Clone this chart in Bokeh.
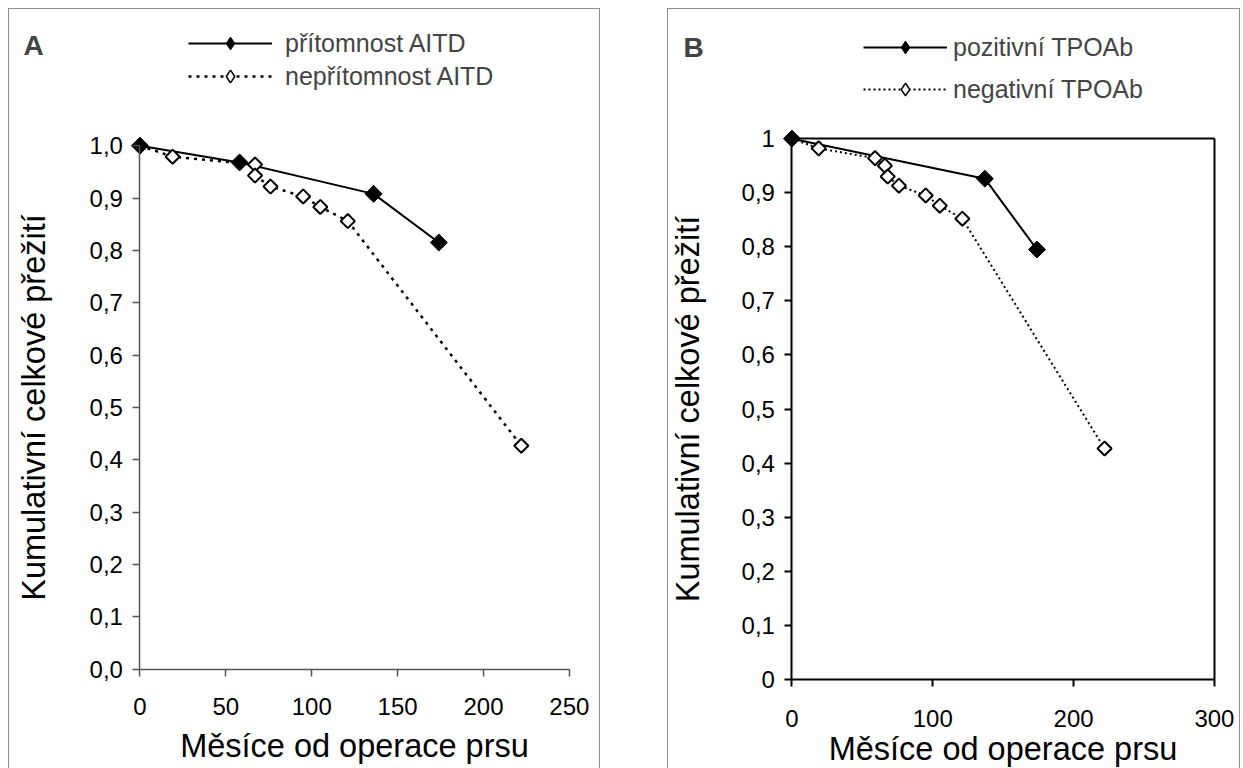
import math
from bokeh.plotting import figure
from bokeh.models import Range1d, FixedTicker, LinearAxis, Legend, LegendItem, Label
from bokeh.layouts import row
from bokeh.embed import file_html
from bokeh.resources import INLINE

FONT = "Liberation Sans"

# ---------------- data ----------------
a_pos_months = [0, 58, 136, 174]
a_pos_surv = [1.0, 0.968, 0.908, 0.815]
a_neg_months = [0, 19, 67, 67, 76, 95, 105, 121, 222]
a_neg_surv = [1.0, 0.979, 0.964, 0.943, 0.922, 0.903, 0.883, 0.856, 0.427]

b_pos_months = [0, 137, 174]
b_pos_surv = [1.0, 0.926, 0.795]
b_neg_months = [0, 19, 59, 66, 68, 76, 95, 105, 121, 222]
b_neg_surv = [1.0, 0.982, 0.964, 0.95, 0.93, 0.913, 0.895, 0.876, 0.852, 0.427]

a_xticks = [0, 50, 100, 150, 200, 250]
b_xticks = [0, 100, 200, 300]
y_ticks = [0, 0.1, 0.2, 0.3, 0.4, 0.5, 0.6, 0.7, 0.8, 0.9, 1]
a_ytick_labels = ["0,0", "0,1", "0,2", "0,3", "0,4", "0,5", "0,6", "0,7", "0,8", "0,9", "1,0"]
b_ytick_labels = ["0", "0,1", "0,2", "0,3", "0,4", "0,5", "0,6", "0,7", "0,8", "0,9", "1"]

a_legend = ["přítomnost AITD", "nepřítomnost AITD"]
b_legend = ["pozitivní TPOAb", "negativní TPOAb"]
x_title = "Měsíce od operace prsu"
y_title = "Kumulativní celkové přežití"

HEIGHT = 760   # figure height (1px top border -> 759px canvas)


def style_axis(ax, color, width, label_standoff, title, title_standoff):
    ax.axis_line_color = color
    ax.axis_line_width = width
    ax.major_tick_line_color = color
    ax.major_tick_line_width = width
    ax.major_tick_out = 7
    ax.major_tick_in = 0
    ax.minor_tick_line_color = None
    ax.major_label_text_font = FONT
    ax.major_label_text_font_size = "24px"
    ax.major_label_text_color = "black"
    ax.major_label_standoff = label_standoff
    ax.axis_label = title
    ax.axis_label_text_font = FONT
    ax.axis_label_text_font_size = "32.5px"
    ax.axis_label_text_font_style = "normal"
    ax.axis_label_text_color = "black"
    ax.axis_label_standoff = title_standoff


def make_panel(letter, xmax, xticks, ytick_labels, pos_x, pos_y, neg_x, neg_y, legend_labels,
               width, px_x0, px_x1, px_y1, px_y0, axis_color, axis_width, boxed, dash, dash_w,
               xstand, ystand, legend_loc, legend_pitch, label_standoff, letter_pos):
    # the frame fills the whole canvas; ranges chosen from where 0/xmax and 0/1 sit
    cw, ch = width - 2, HEIGHT - 1
    kx = (px_x1 - px_x0) / xmax
    ky = (px_y0 - px_y1) / 1.0
    x_range = Range1d(-px_x0 / kx, (cw - px_x0) / kx)
    y_range = Range1d(-(ch - px_y0) / ky, px_y0 / ky)

    p = figure(width=width, height=HEIGHT, x_range=x_range, y_range=y_range,
               output_backend="svg", toolbar_location=None,
               x_axis_location=None, y_axis_location=None,
               min_border=0, min_border_left=0, min_border_right=0,
               min_border_top=0, min_border_bottom=0)
    p.title.visible = False
    p.grid.visible = False
    p.outline_line_color = None
    p.background_fill_color = "white"
    p.border_fill_color = "white"
    p.styles = {"border-top": "1px solid #8f8f8f", "border-left": "1px solid #8f8f8f",
                "border-right": "1px solid #8f8f8f"}

    xa = LinearAxis(fixed_location=0, bounds=(0, xmax), ticker=FixedTicker(ticks=xticks))
    ya = LinearAxis(fixed_location=0, bounds=(0, 1), ticker=FixedTicker(ticks=y_ticks))
    ya.major_label_overrides = dict(zip(y_ticks, ytick_labels))
    style_axis(xa, axis_color, axis_width, xstand[0], x_title, xstand[1])
    style_axis(ya, axis_color, axis_width, ystand[0], y_title, ystand[1])
    p.add_layout(xa, "below")
    p.add_layout(ya, "left")

    if boxed:
        top = LinearAxis(fixed_location=1, bounds=(0, xmax), ticker=FixedTicker(ticks=[]))
        right = LinearAxis(fixed_location=xmax, bounds=(0, 1), ticker=FixedTicker(ticks=[]))
        for ax in (top, right):
            ax.axis_line_color = axis_color
            ax.axis_line_width = axis_width
            ax.major_tick_line_color = None
            ax.minor_tick_line_color = None
        p.add_layout(top, "above")
        p.add_layout(right, "right")

    neg_line = p.line(neg_x, neg_y, line_color="black", line_width=dash_w, line_dash=dash)
    pos_line = p.line(pos_x, pos_y, line_color="black", line_width=2)
    # diamonds hidden under the plot markers; they supply the legend symbols
    # (the legend does not rotate the square markers)
    neg_key = p.scatter(neg_x, neg_y, marker="diamond", size=13, fill_color="white",
                        line_color="black", line_width=1.5)
    pos_key = p.scatter(pos_x, pos_y, marker="diamond", size=14, fill_color="black",
                        line_color="black", line_width=1)
    neg_pts = p.scatter(neg_x, neg_y, marker="square", size=10, angle=math.pi / 4,
                        fill_color="white", line_color="black", line_width=2)
    pos_pts = p.scatter(pos_x, pos_y, marker="square", size=12, angle=math.pi / 4,
                        fill_color="black", line_color="black", line_width=1)

    legend = Legend(items=[LegendItem(label=legend_labels[0], renderers=[pos_line, pos_key]),
                           LegendItem(label=legend_labels[1], renderers=[neg_line, neg_key])],
                    location=legend_loc, glyph_width=84, glyph_height=32, label_height=32,
                    spacing=legend_pitch - 32, padding=0, margin=0,
                    label_standoff=label_standoff,
                    label_text_font=FONT, label_text_font_size="25px",
                    border_line_color=None, background_fill_alpha=0)
    p.add_layout(legend, "center")

    p.add_layout(Label(x=letter_pos[0], y=letter_pos[1], x_units="screen", y_units="screen",
                       text=letter, text_font=FONT, text_font_size="28px",
                       text_font_style="bold", text_baseline="middle", text_align="left"))
    return p


# canvas A: page x 9..599, y 9..768 ; canvas B: page x 668..1239
pA = make_panel("A", 250, a_xticks, a_ytick_labels, a_pos_months, a_pos_surv,
                a_neg_months, a_neg_surv, a_legend, width=592,
                px_x0=130, px_x1=558, px_y1=136, px_y0=659,
                axis_color="#555555", axis_width=1.5, boxed=False, dash="3 5", dash_w=2.5,
                xstand=(22, 9), ystand=(10, 34),
                legend_loc=(179, 677), legend_pitch=33, label_standoff=13,
                letter_pos=(14, 724))

pB = make_panel("B", 300, b_xticks, b_ytick_labels, b_pos_months, b_pos_surv,
                b_neg_months, b_neg_surv, b_legend, width=573,
                px_x0=123, px_x1=544, px_y1=129, px_y0=669,
                axis_color="black", axis_width=2, boxed=True, dash="2 3", dash_w=2,
                xstand=(24, 0), ystand=(10, 32),
                legend_loc=(195, 664), legend_pitch=42, label_standoff=6,
                letter_pos=(15, 722))

layout = row(pA, pB, spacing=67, margin=(8, 0, 0, 8))
open("out.html", "w").write(file_html(layout, INLINE))
